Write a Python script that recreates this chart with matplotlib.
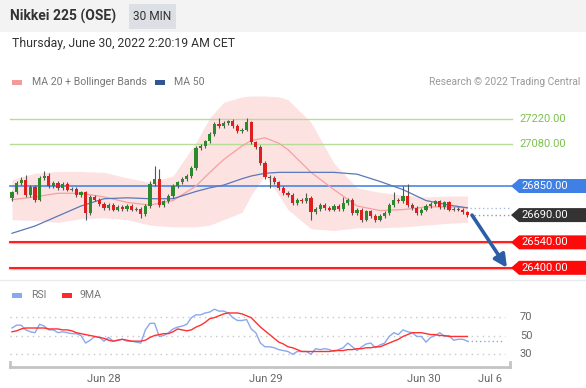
import matplotlib
matplotlib.use("Agg")
import matplotlib.pyplot as plt
import matplotlib.transforms as mtransforms
from matplotlib.patches import Rectangle, Polygon
import numpy as np

plt.rcParams['font.family'] = ['Roboto', 'DejaVu Sans']

W, H = 586, 388

# ---- price data (30 min candles) ----
first_open = 26785
closes = [26815, 26865, 26885, 26800, 26845, 26775, 26895, 26905, 26850, 26865,
          26840, 26860, 26830, 26835, 26800, 26815, 26700, 26790, 26775, 26750,
          26730, 26745, 26720, 26735, 26725, 26740, 26720, 26725, 26695, 26740,
          26860, 26890, 26745, 26765, 26795, 26850, 26870, 26890, 26905, 26950,
          27060, 27070, 27095, 27135, 27190, 27180, 27195, 27205, 27180, 27150,
          27160, 27200, 27090, 27065, 26975, 26900, 26895, 26870, 26840, 26810,
          26800, 26755, 26775, 26765, 26785, 26705, 26725, 26745, 26730, 26720,
          26740, 26725, 26755, 26775, 26700, 26720, 26665, 26710, 26685, 26665,
          26685, 26700, 26745, 26775, 26765, 26795, 26745, 26730, 26700, 26720,
          26740, 26750, 26765, 26735, 26760, 26720, 26725, 26720, 26705, 26690]
wick_up = [10, 10, 15, 25, 10, 10, 10, 30, 15, 10,
           10, 10, 10, 10, 10, 10, 10, 10, 10, 10,
           10, 10, 10, 10, 10, 10, 10, 10, 10, 10,
           20, 70, 55, 10, 10, 10, 10, 10, 10, 10,
           10, 10, 10, 10, 10, 35, 10, 10, 15, 10,
           10, 25, 10, 10, 10, 10, 10, 10, 10, 10,
           15, 10, 10, 10, 25, 10, 10, 10, 10, 10,
           10, 10, 35, 10, 10, 10, 10, 10, 10, 10,
           10, 10, 10, 40, 10, 55, 65, 10, 10, 10,
           10, 10, 10, 10, 10, 10, 10, 10, 10, 10]
wick_dn = [15, 10, 10, 10, 10, 15, 10, 10, 10, 10,
           10, 10, 10, 10, 10, 10, 35, 10, 10, 10,
           10, 10, 10, 10, 10, 10, 10, 10, 20, 10,
           10, 10, 10, 10, 10, 10, 10, 10, 10, 10,
           10, 10, 10, 10, 10, 10, 10, 10, 10, 10,
           10, 10, 10, 10, 10, 10, 55, 10, 10, 10,
           10, 10, 10, 10, 10, 40, 10, 10, 10, 10,
           10, 10, 10, 10, 10, 10, 15, 10, 10, 15,
           10, 10, 10, 10, 10, 10, 10, 10, 10, 10,
           10, 10, 10, 10, 10, 10, 10, 10, 10, 10]

# ---- indicators, sampled at candle index ----
band_idx = [0, 5, 10, 15, 20, 25, 30, 35, 40, 43, 46, 50, 52, 55, 58, 60, 65, 70, 75, 80, 85, 90, 95, 99]
bb_upper = [26885, 26920, 26930, 26930, 26925, 26895, 26870, 26905, 27090, 27225, 27310, 27340,
            27345, 27345, 27340, 27325, 27200, 26975, 26840, 26815, 26800, 26790, 26795, 26795]
bb_lower = [26665, 26660, 26650, 26670, 26675, 26665, 26635, 26625, 26625, 26635, 26665, 26705,
            26800, 26910, 26800, 26720, 26615, 26605, 26620, 26620, 26625, 26635, 26645, 26650]
ma20 = [26775, 26790, 26810, 26810, 26790, 26760, 26745, 26770, 26850, 26925, 26995, 27070,
        27100, 27115, 27085, 27050, 26925, 26830, 26740, 26715, 26720, 26735, 26735, 26730]
ma50 = [26590, 26630, 26685, 26740, 26780, 26785, 26780, 26780, 26820, 26840, 26855, 26890,
        26905, 26920, 26925, 26925, 26925, 26925, 26915, 26875, 26830, 26770, 26745, 26730]

rsi = [58, 61, 61, 56, 54, 53, 62, 60, 56, 56,
       53, 54, 53, 52, 52, 50, 42, 45, 49, 48,
       44, 48, 44, 45, 46, 44, 44, 43, 42, 56,
       63, 63, 49, 50, 53, 57, 59, 60, 62, 69,
       72, 72, 74, 75, 78, 76, 76, 74, 69, 66,
       66, 67, 57, 53, 42, 38, 38, 37, 35, 34,
       33, 30, 33, 33, 33, 30, 36, 35, 36, 35,
       33, 35, 37, 42, 38, 34, 38, 41, 42, 37,
       40, 42, 49, 53, 51, 56, 54, 53, 49, 49,
       43, 48, 50, 53, 49, 50, 45, 46, 46, 44]
rsi_ma9 = [54, 55, 57, 58, 58, 58, 58, 58, 57, 57,
           57, 56, 56, 55, 53, 52, 51, 50, 49, 48,
           47, 45, 44, 45, 46, 45, 44, 44, 44, 45,
           48, 50, 51, 52, 52, 54, 57, 56, 55, 56,
           59, 61, 64, 68, 69, 71, 73, 74, 74, 74,
           73, 71, 69, 64, 59, 55, 51, 47, 43, 41,
           38, 37, 35, 33, 33, 33, 33, 33, 33, 33,
           34, 34, 34, 35, 35, 36, 36, 37, 37, 38,
           38, 40, 42, 44, 46, 49, 51, 53, 53, 53,
           52, 51, 51, 50, 50, 49, 49, 49, 49, 49]

levels_green = [27220, 27080]
level_pivot = 26850
level_last = 26690
levels_red = [26540, 26400]
target = 26400

date_ticks = [20, 55.2, 89.6, 103.9]
date_labels = ['Jun 28', 'Jun 29', 'Jun 30', 'Jul 6']
rsi_levels = [70, 50, 30]

XLIM = (-0.435, 108.26)


def fx(x):
    return x / W


def fy(y):
    return 1 - y / H


fig = plt.figure(figsize=(W / 100, H / 100), dpi=100)

# background / header in pixel coords
bg = fig.add_axes([0, 0, 1, 1], zorder=0)
bg.set_xlim(0, W)
bg.set_ylim(H, 0)
bg.axis('off')
bg.add_patch(Rectangle((0, 0), W, 32, color='#f3f3f3', lw=0))
bg.add_patch(Rectangle((129, 4), 47, 25, color='#dcdfe4', lw=0))
bg.text(10, 16.5, 'Nikkei 225 (OSE)', fontsize=10, fontweight='bold', color='#333333', va='center')
bg.text(152.5, 16.5, '30 MIN', fontsize=8.6, color='#333333', va='center', ha='center')
bg.text(12, 44, 'Thursday, June 30, 2022 2:20:19 AM CET', fontsize=8.8, color='#333333', va='center')
bg.plot([0, W], [280, 280], color='#e8ecef', lw=1)

# legends
bg.add_patch(Rectangle((12, 80), 10, 4.5, color='#f59a9a', lw=0))
bg.text(32, 82, 'MA 20 + Bollinger Bands', fontsize=7.6, color='#777777', va='center')
bg.add_patch(Rectangle((155, 80), 10, 4.5, color='#2f5597', lw=0))
bg.text(174, 82, 'MA 50', fontsize=7.6, color='#777777', va='center')
bg.text(580, 82, 'Research \u00a9 2022 Trading Central', fontsize=7.4, color='#9a9a9a', va='center', ha='right')

bg.add_patch(Rectangle((12, 293), 10, 4.5, color='#8aa8ee', lw=0))
bg.text(31, 295, 'RSI', fontsize=7.6, color='#777777', va='center')
bg.add_patch(Rectangle((62, 293), 10, 4.5, color='#ff2a2a', lw=0))
bg.text(80, 295, '9MA', fontsize=7.6, color='#777777', va='center')

# ---- main price panel ----
ax = fig.add_axes([fx(10), fy(278), 500 / W, 186 / H], zorder=1)
ax.set_xlim(*XLIM)
ax.set_ylim(26344, 27367)
ax.axis('off')

ax.fill_between(band_idx, bb_lower, bb_upper, color='#fde2e2', lw=0, zorder=0)

for lv in levels_green:
    ax.axhline(lv, xmin=0, xmax=1.004, color='#b7dc98', lw=1, zorder=1, clip_on=False)
ax.axhline(level_pivot, xmin=0, xmax=1.004, color='#4a86e8', lw=1.2, zorder=1, clip_on=False)
for lv in levels_red:
    ax.axhline(lv, xmin=0, xmax=1.004, color='#ffb8b8', lw=2.4, zorder=1, clip_on=False)
    ax.axhline(lv, xmin=0, xmax=1.004, color='#ff1010', lw=1.3, zorder=1, clip_on=False)

ax.plot(band_idx, ma20, color='#f5a0a0', lw=0.9, zorder=2)
ax.plot(band_idx, ma50, color='#5a78b8', lw=0.9, zorder=2)

# candles
n = len(closes)
idx = np.arange(n)
opens = np.array([first_open] + closes[:-1])
cl = np.array(closes)
tops = np.maximum(opens, cl)
bots = np.minimum(opens, cl)
highs = tops + np.array(wick_up)
lows = bots - np.array(wick_dn)
cols = ['#2b8a2b' if c >= o else '#dd1f1f' for o, c in zip(opens, cl)]
ax.vlines(idx, lows, highs, color='#555555', lw=0.8, zorder=3)
ax.bar(idx, np.maximum(tops - bots, 4), bottom=bots, width=0.72, color=cols, lw=0, zorder=4)

# dotted extensions past the last candle
ax.hlines(level_last, n - 0.5, XLIM[1], color='#9a9a9a', lw=1, linestyles=(0, (1, 2)), zorder=2)
ax.hlines(ma50[-1], n - 0.5, XLIM[1], color='#a8bce0', lw=1, linestyles=(0, (1, 2)), zorder=2)

# forecast arrow
ax.annotate('', xy=(107.6, target), xytext=(n, closes[-1]),
            arrowprops=dict(arrowstyle='-|>', color='#2b5ea7', lw=2.6, mutation_scale=19,
                            shrinkA=0, shrinkB=0),
            annotation_clip=False, zorder=5)

# right-hand labels
tr = mtransforms.blended_transform_factory(fig.transFigure, ax.transData)
half = 7 * 5.5


def tag(price, face):
    pts = [(fx(511), price), (fx(519), price + half), (fx(586), price + half),
           (fx(586), price - half), (fx(519), price - half)]
    ax.add_patch(Polygon(pts, closed=True, transform=tr, color=face, lw=0, clip_on=False, zorder=6))
    ax.text(fx(521), price, f'{price:.2f}', transform=tr, color='white', fontsize=8,
            va='center', ha='left', zorder=7, clip_on=False)


for lv in levels_green:
    ax.text(fx(519), lv, f'{lv:.2f}', transform=tr, color='#7cc24e', fontsize=8,
            va='center', ha='left', clip_on=False)
tag(level_pivot, '#3f80e6')
tag(level_last, '#333333')
for lv in levels_red:
    tag(lv, '#ff0a0a')

# ---- RSI panel ----
rax = fig.add_axes([fx(10), fy(367), 500 / W, 67 / H], zorder=1)
rax.set_xlim(*XLIM)
rax.set_ylim(16.5, 87.8)
rax.patch.set_visible(False)
for s in ['top', 'left', 'right']:
    rax.spines[s].set_visible(False)
rax.spines['bottom'].set_color('#c4c4c4')
rax.spines['bottom'].set_linewidth(2)
rax.set_yticks([])
rax.set_xticks(date_ticks)
rax.set_xticklabels(date_labels)
rax.tick_params(axis='x', length=0, pad=5, labelsize=8, labelcolor='#666666')
for xe in (0, 1):
    rax.plot([xe, xe], [0, 0.07], transform=rax.transAxes, color='#c4c4c4', lw=2, clip_on=False)

for lv in rsi_levels:
    rax.axhline(lv, xmin=0, xmax=0.99, color='#c8c8c8', lw=1, ls=(0, (1, 3)))
rtr = mtransforms.blended_transform_factory(fig.transFigure, rax.transData)
for lv in rsi_levels:
    rax.text(fx(520), lv, str(lv), transform=rtr, color='#666666', fontsize=8, va='center', clip_on=False)

rax.plot(idx, rsi, color='#8aa8ee', lw=1.0)
rax.plot(idx, rsi_ma9, color='#ff3030', lw=1.0)
rax.hlines(rsi[-1], n - 1, 107, color='#8aa8ee', lw=1.0, linestyles=(0, (1, 2)))

fig.savefig('out.png', dpi=100)
